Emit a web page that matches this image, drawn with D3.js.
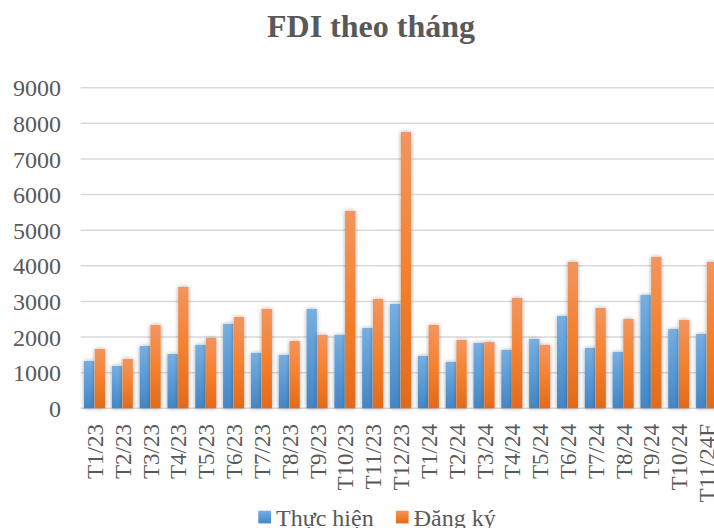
<!DOCTYPE html>
<html>
<head>
<meta charset="utf-8">
<script src="https://cdn.jsdelivr.net/npm/d3@7"></script>
<style>
  html, body { margin: 0; padding: 0; background: #fff; }
  svg { display: block; font-family: "Liberation Serif", "Times New Roman", serif; }
</style>
</head>
<body>
<svg id="chart"></svg>
<script>
////////////////////////////////////////////////////////////////////////////////////////////////////
//                                      FDI theo tháng                                            //
////////////////////////////////////////////////////////////////////////////////////////////////////

const MONTHS   = [ 'T1/23', 'T2/23', 'T3/23', 'T4/23', 'T5/23', 'T6/23', 'T7/23', 'T8/23',
                   'T9/23', 'T10/23', 'T11/23', 'T12/23', 'T1/24', 'T2/24', 'T3/24', 'T4/24',
                   'T5/24', 'T6/24', 'T7/24', 'T8/24', 'T9/24', 'T10/24', 'T11/24F' ];
const THUC_HIEN = [ 1330, 1190, 1750, 1525, 1780, 2370, 1555, 1500, 2790, 2060, 2255, 2930,
                    1470, 1300, 1835, 1640, 1945, 2590, 1695, 1580, 3180, 2225, 2085 ];
const DANG_KY   = [ 1665, 1385, 2340, 3405, 1975, 2565, 2790, 1890, 2060, 5540, 3070, 7755,
                    2340, 1920, 1860, 3095, 1780, 4110, 2815, 2505, 4250, 2480, 4110 ];
const Y_TICKS   = [ 0, 1000, 2000, 3000, 4000, 5000, 6000, 7000, 8000, 9000 ];
const SERIES    = [ 'Thực hiện', 'Đăng ký' ];

// The Chart Builder class. Draws the clustered column chart.
class ChartBuilder {

  constructor ( ) {
    // Sets up sizes. The plot runs a bit past the right edge, like the cropped original.
    this.chartWidth  = 714;
    this.chartHeight = 528;
    this.plot        = { left: 80.6, right: 720.5, top: 87.7, bottom: 408.3 };
    this.textColor   = '#595959';
    this.colors      = [
      [ '#78aee0', '#5b9bd5', '#4485c4' ],
      [ '#f29560', '#f4812f', '#e26a1a' ]
    ];
  }

  makeCanvas ( ) {
    this.chart = d3.select( '#chart' )
      .attr( 'width',  this.chartWidth )
      .attr( 'height', this.chartHeight );
    const defs = this.chart.append( 'defs' );

    // Soft shadow round the columns.
    defs.append( 'filter' ).attr( 'id', 'shadow' )
      .attr( 'x', '-60%' ).attr( 'y', '-20%' ).attr( 'width', '220%' ).attr( 'height', '140%' )
      .append( 'feDropShadow' )
      .attr( 'dx', 0 ).attr( 'dy', 0 ).attr( 'stdDeviation', 2.2 )
      .attr( 'flood-color', '#000' ).attr( 'flood-opacity', 0.35 );

    // Vertical gradients, one per series.
    this.colors.forEach( ( c, i ) => {
      const g = defs.append( 'linearGradient' ).attr( 'id', `grad${i}` )
        .attr( 'x1', 0 ).attr( 'y1', 0 ).attr( 'x2', 0 ).attr( 'y2', 1 );
      g.append( 'stop' ).attr( 'offset', '0%'   ).attr( 'stop-color', c[0] );
      g.append( 'stop' ).attr( 'offset', '50%'  ).attr( 'stop-color', c[1] );
      g.append( 'stop' ).attr( 'offset', '100%' ).attr( 'stop-color', c[2] );
    } );

    this.canvas = this.chart.append( 'g' );
    return this;
  }

  makeScales ( ) {
    this.x = d3.scaleBand( )
      .domain( MONTHS )
      .range( [ this.plot.left, this.plot.right ] )
      .paddingInner( 0.245 ).paddingOuter( 0.1225 );
    this.xInner = d3.scaleBand( )
      .domain( SERIES )
      .range( [ 0, this.x.bandwidth( ) ] )
      .paddingInner( 0.04 );
    this.y = d3.scaleLinear( )
      .domain( [ 0, 9000 ] )
      .range( [ this.plot.bottom, this.plot.top ] );
    return this;
  }

  drawTitle ( ) {
    this.canvas.append( 'text' )
      .attr( 'x', 371 ).attr( 'y', 36.5 )
      .attr( 'text-anchor', 'middle' )
      .attr( 'font-size', 32 ).attr( 'font-weight', 'bold' )
      .attr( 'fill', this.textColor )
      .text( 'FDI theo tháng' );
    return this;
  }

  drawGrid ( ) {
    // Horizontal gridlines and the y labels.
    const grid = this.canvas.append( 'g' );
    grid.selectAll( 'line' )
      .data( Y_TICKS )
      .enter( ).append( 'line' )
      .attr( 'x1', this.plot.left ).attr( 'x2', this.plot.right )
      .attr( 'y1', d => this.y( d ) ).attr( 'y2', d => this.y( d ) )
      .attr( 'stroke', '#d9d9d9' ).attr( 'stroke-width', 1.5 );

    const yAxis = d3.axisLeft( this.y )
      .tickValues( Y_TICKS ).tickFormat( d3.format( 'd' ) )
      .tickSize( 0 ).tickPadding( 0 );
    const ax = this.canvas.append( 'g' )
      .attr( 'transform', 'translate( 61, 0 )' )
      .call( yAxis )
      .attr( 'font-family', null ).attr( 'font-size', null );
    ax.select( '.domain' ).remove( );
    ax.selectAll( 'text' )
      .attr( 'font-size', 24 )
      .attr( 'fill', this.textColor ).attr( 'dy', '0.34em' );
    return this;
  }

  drawBars ( ) {
    const groups = this.canvas.append( 'g' ).selectAll( 'g' )
      .data( MONTHS.map( ( m, i ) => ( { month: m, values: [ THUC_HIEN[i], DANG_KY[i] ] } ) ) )
      .enter( ).append( 'g' )
      .attr( 'transform', d => `translate( ${this.x( d.month )}, 0 )` );

    groups.selectAll( 'rect' )
      .data( d => d.values.map( ( v, i ) => ( { key: SERIES[i], value: v, idx: i } ) ) )
      .enter( ).append( 'rect' )
      .attr( 'x', d => this.xInner( d.key ) )
      .attr( 'width', this.xInner.bandwidth( ) )
      .attr( 'y', d => this.y( d.value ) )
      .attr( 'height', d => this.y( 0 ) - this.y( d.value ) )
      .attr( 'fill', d => `url(#grad${d.idx})` )
      .attr( 'filter', 'url(#shadow)' );
    return this;
  }

  drawXLabels ( ) {
    this.canvas.append( 'g' ).selectAll( 'text' )
      .data( MONTHS )
      .enter( ).append( 'text' )
      .attr( 'transform', d => `translate( ${this.x( d ) + this.x.bandwidth( ) / 2}, 424 ) rotate( -90 )` )
      .attr( 'text-anchor', 'end' )
      .attr( 'dy', '0.37em' )
      .attr( 'font-size', 23 )
      .attr( 'fill', this.textColor )
      .text( d => d );
    return this;
  }

  drawLegend ( ) {
    // Items are placed one after another, from the measured text widths.
    let xPos = 258.3;
    SERIES.forEach( ( s, i ) => {
      const item = this.canvas.append( 'g' );
      item.append( 'rect' )
        .attr( 'x', xPos ).attr( 'y', 510.7 )
        .attr( 'width', 12.7 ).attr( 'height', 12.7 )
        .attr( 'fill', `url(#grad${i})` );
      const label = item.append( 'text' )
        .attr( 'x', xPos + 17.7 ).attr( 'y', 525.7 )
        .attr( 'font-size', 24 )
        .attr( 'fill', this.textColor )
        .text( s );
      xPos += 17.7 + label.node( ).getComputedTextLength( ) + 22.3;
    } );
    return this;
  }

}

const getTheChart = new ChartBuilder( );
getTheChart.makeCanvas( ).makeScales( ).drawTitle( ).drawGrid( ).drawBars( ).drawXLabels( ).drawLegend( );
</script>
</body>
</html>
